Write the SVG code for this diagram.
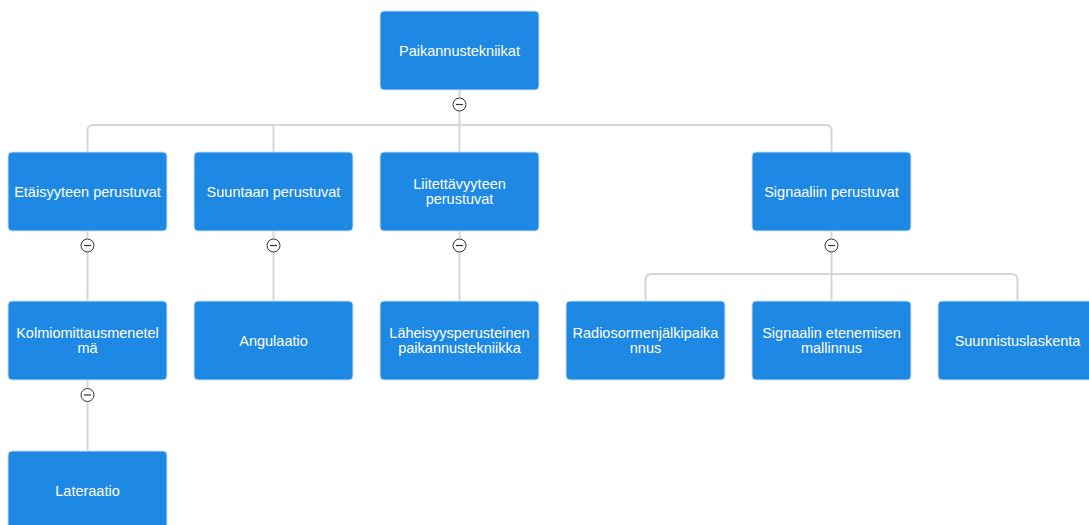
<svg xmlns="http://www.w3.org/2000/svg" width="1089" height="525" viewBox="0 0 1089 525">
<style>
.node rect{fill:#1e89e4;stroke:#cfe0f0;stroke-width:1}
.node text{fill:#fff;font-family:"Liberation Sans",Arial,sans-serif;font-size:14.5px;text-anchor:middle}
.conn path{fill:none;stroke:#d6d6d6;stroke-width:2}
.tog circle{fill:#fff;stroke:#333;stroke-width:1}
.tog line{stroke:#333;stroke-width:1.2}
</style>
<rect width="1089" height="525" fill="#fff"/>
<g id="connectors" class="conn">
<path d="M459.5 90V125"/>
<path d="M87.5 152V131Q87.5 125 93.5 125H825.5Q831.5 125 831.5 131V152"/>
<path d="M273.5 125V152"/>
<path d="M459.5 125V152"/>
<path d="M87.5 231V301"/>
<path d="M273.5 231V301"/>
<path d="M459.5 231V301"/>
<path d="M831.5 231V301"/>
<path d="M645.5 301V280Q645.5 274 651.5 274H1011.5Q1017.5 274 1017.5 280V301"/>
<path d="M87.5 380V451"/>
</g>
<g id="n0" class="node"><rect x="380" y="11" width="159" height="79" rx="4"/><text x="459.5" y="55.5">Paikannustekniikat</text></g>
<g id="n1" class="node"><rect x="8" y="152" width="159" height="79" rx="4"/><text x="87.5" y="196.5">Etäisyyteen perustuvat</text></g>
<g id="n2" class="node"><rect x="194" y="152" width="159" height="79" rx="4"/><text x="273.5" y="196.5">Suuntaan perustuvat</text></g>
<g id="n3" class="node"><rect x="380" y="152" width="159" height="79" rx="4"/><text x="459.5" y="188.5">Liitettävyyteen</text><text x="459.5" y="204">perustuvat</text></g>
<g id="n4" class="node"><rect x="752" y="152" width="159" height="79" rx="4"/><text x="831.5" y="196.5">Signaaliin perustuvat</text></g>
<g id="n5" class="node"><rect x="8" y="301" width="159" height="79" rx="4"/><text x="87.5" y="337.5">Kolmiomittausmenetel</text><text x="87.5" y="353">mä</text></g>
<g id="n6" class="node"><rect x="194" y="301" width="159" height="79" rx="4"/><text x="273.5" y="345.5">Angulaatio</text></g>
<g id="n7" class="node"><rect x="380" y="301" width="159" height="79" rx="4"/><text x="459.5" y="337.5">Läheisyysperusteinen</text><text x="459.5" y="353">paikannustekniikka</text></g>
<g id="n8" class="node"><rect x="566" y="301" width="159" height="79" rx="4"/><text x="645.5" y="337.5">Radiosormenjälkipaika</text><text x="645.5" y="353">nnus</text></g>
<g id="n9" class="node"><rect x="752" y="301" width="159" height="79" rx="4"/><text x="831.5" y="337.5">Signaalin etenemisen</text><text x="831.5" y="353">mallinnus</text></g>
<g id="n10" class="node"><rect x="938" y="301" width="159" height="79" rx="4"/><text x="1017.5" y="345.5">Suunnistuslaskenta</text></g>
<g id="n11" class="node"><rect x="8" y="451" width="159" height="79" rx="4"/><text x="87.5" y="495.5">Lateraatio</text></g>
<g id="toggles" class="tog">
<g><circle cx="459.5" cy="104.5" r="6.5"/><line x1="456" y1="104.5" x2="463" y2="104.5"/></g>
<g><circle cx="87.5" cy="245.5" r="6.5"/><line x1="84" y1="245.5" x2="91" y2="245.5"/></g>
<g><circle cx="273.5" cy="245.5" r="6.5"/><line x1="270" y1="245.5" x2="277" y2="245.5"/></g>
<g><circle cx="459.5" cy="245.5" r="6.5"/><line x1="456" y1="245.5" x2="463" y2="245.5"/></g>
<g><circle cx="831.5" cy="245.5" r="6.5"/><line x1="828" y1="245.5" x2="835" y2="245.5"/></g>
<g><circle cx="87.5" cy="395" r="6.5"/><line x1="84" y1="395" x2="91" y2="395"/></g>
</g>
</svg>
